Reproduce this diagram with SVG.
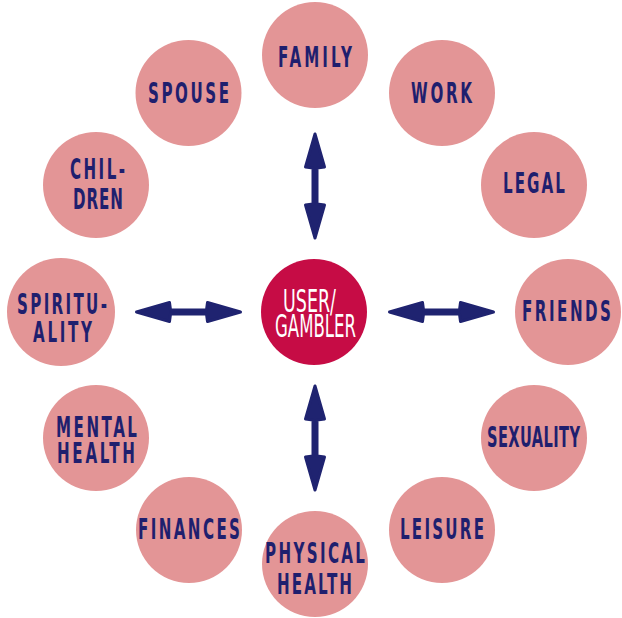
<svg xmlns="http://www.w3.org/2000/svg" xmlns:xlink="http://www.w3.org/1999/xlink" width="622" height="618" viewBox="0 0 622 618">
<style>
.n{fill:#e39596}
.c{fill:#c60c45}
.t{font-family:"DejaVu Sans Condensed","DejaVu Sans",sans-serif;font-size:28px;font-weight:bold;fill:#1f1f6e;text-anchor:middle}
.w{font-family:"DejaVu Sans Condensed","DejaVu Sans",sans-serif;font-size:32px;fill:#ffffff;text-anchor:middle}
.a{fill:#1f2370;stroke:#1f2370;stroke-width:3;stroke-linejoin:round}
</style>
<defs>
<path id="dbl" d="M -52 0 L -19 -9.5 L -18 -2 L 18 -2 L 19 -9.5 L 52 0 L 19 9.5 L 18 2 L -18 2 L -19 9.5 Z"/>
</defs>
<rect width="622" height="618" fill="#ffffff"/>
<g id="connectors">
<use xlink:href="#dbl" class="a" transform="translate(188.5,312)"/>
<use xlink:href="#dbl" class="a" transform="translate(441.5,312)"/>
<use xlink:href="#dbl" class="a" transform="translate(315,186) rotate(90)"/>
<use xlink:href="#dbl" class="a" transform="translate(315,438) rotate(90)"/>
</g>
<g id="center"><circle class="c" cx="314" cy="312" r="53"/>
<text class="w" x="309.5" y="312" textLength="53" lengthAdjust="spacingAndGlyphs">USER/</text>
<text class="w" x="315.5" y="337" textLength="81" lengthAdjust="spacingAndGlyphs">GAMBLER</text></g>
<g id="family"><circle class="n" cx="315" cy="55" r="53"/>
<text class="t" transform="translate(315,67) scale(0.6,1)" textLength="123.3" lengthAdjust="spacing">FAMILY</text></g>
<g id="work"><circle class="n" cx="442" cy="93" r="53"/>
<text class="t" transform="translate(441.5,103) scale(0.6,1)" textLength="101.7" lengthAdjust="spacing">WORK</text></g>
<g id="legal"><circle class="n" cx="534" cy="185" r="53"/>
<text class="t" transform="translate(534,193) scale(0.6,1)" textLength="103.3" lengthAdjust="spacing">LEGAL</text></g>
<g id="friends"><circle class="n" cx="568" cy="312" r="53"/>
<text class="t" transform="translate(566.5,321) scale(0.6,1)" textLength="148.3" lengthAdjust="spacing">FRIENDS</text></g>
<g id="sexuality"><circle class="n" cx="534" cy="438" r="53"/>
<text class="t" transform="translate(533.5,447) scale(0.58,1)" textLength="160.3" lengthAdjust="spacing">SEXUALITY</text></g>
<g id="leisure"><circle class="n" cx="442" cy="530" r="53"/>
<text class="t" transform="translate(442,539) scale(0.6,1)" textLength="140" lengthAdjust="spacing">LEISURE</text></g>
<g id="physical-health"><circle class="n" cx="315" cy="564" r="53"/>
<text class="t" transform="translate(315,563) scale(0.6,1)" textLength="166.7" lengthAdjust="spacing">PHYSICAL</text>
<text class="t" transform="translate(314.5,594) scale(0.6,1)" textLength="125" lengthAdjust="spacing">HEALTH</text></g>
<g id="finances"><circle class="n" cx="189" cy="530" r="53"/>
<text class="t" transform="translate(189,539) scale(0.6,1)" textLength="170" lengthAdjust="spacing">FINANCES</text></g>
<g id="mental-health"><circle class="n" cx="96" cy="438" r="53"/>
<text class="t" transform="translate(96.5,437) scale(0.6,1)" textLength="135" lengthAdjust="spacing">MENTAL</text>
<text class="t" transform="translate(96,463) scale(0.6,1)" textLength="130" lengthAdjust="spacing">HEALTH</text></g>
<g id="spirituality"><circle class="n" cx="61" cy="312" r="54"/>
<text class="t" transform="translate(62,314) scale(0.6,1)" textLength="150" lengthAdjust="spacing">SPIRITU-</text>
<text class="t" transform="translate(62.5,342) scale(0.6,1)" textLength="98.3" lengthAdjust="spacing">ALITY</text></g>
<g id="children"><circle class="n" cx="96" cy="185" r="53"/>
<text class="t" transform="translate(97.5,179) scale(0.6,1)" textLength="91.7" lengthAdjust="spacing">CHIL-</text>
<text class="t" transform="translate(98,209) scale(0.6,1)" textLength="83.3" lengthAdjust="spacing">DREN</text></g>
<g id="spouse"><circle class="n" cx="188.5" cy="93" r="53"/>
<text class="t" transform="translate(188.5,103) scale(0.6,1)" textLength="135" lengthAdjust="spacing">SPOUSE</text></g>
</svg>
